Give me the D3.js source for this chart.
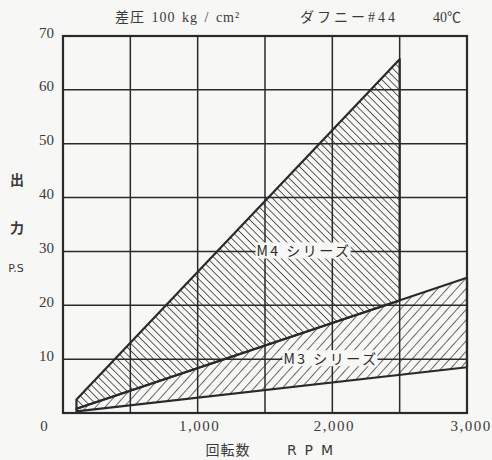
<!DOCTYPE html>
<html>
<head>
<meta charset="utf-8">
<script src="https://cdn.jsdelivr.net/npm/d3@7"></script>
<style>
  body { margin: 0; background: #f7f7f5; }
  svg { display: block; }
</style>
</head>
<body>
<div id="chart"></div>
<script>
// values
const rpmTicks = [1000, 2000, 3000];
const rpmGrid = [500, 1000, 1500, 2000, 2500];
const psTicks = [10, 20, 30, 40, 50, 60, 70];
const m4Region = [[100, 0.8], [100, 2.5], [2500, 65.7], [2500, 20.9]];
const m3Region = [[100, 0.3], [100, 0.8], [3000, 25.1], [3000, 8.5]];
const seriesLabels = [
  { name: "M4 シリーズ", rpm: 1790, ps: 30 },
  { name: "M3 シリーズ", rpm: 1990, ps: 10 }
];

function drawChart() {
  const width = 492, height = 460;
  const margin = { top: 36, right: 25, bottom: 47, left: 63 };
  const ink = "#2a2a2a";

  const svg = d3.select("#chart").append("svg")
    .attr("width", width)
    .attr("height", height);

  const x = d3.scaleLinear()
    .domain([0, 3000])
    .range([margin.left, width - margin.right]);

  const y = d3.scaleLinear()
    .domain([0, 70])
    .range([height - margin.bottom, margin.top]);

  // hatch patterns
  const defs = svg.append("defs");
  defs.append("pattern")
    .attr("id", "hatch-m4")
    .attr("patternUnits", "userSpaceOnUse")
    .attr("width", 5.2).attr("height", 10)
    .attr("patternTransform", "rotate(-45)")
    .append("line")
    .attr("x1", 0).attr("y1", 0).attr("x2", 0).attr("y2", 10)
    .attr("stroke", ink).attr("stroke-width", 1.5);

  defs.append("pattern")
    .attr("id", "hatch-m3")
    .attr("patternUnits", "userSpaceOnUse")
    .attr("width", 7).attr("height", 10)
    .attr("patternTransform", "rotate(42)")
    .append("line")
    .attr("x1", 0).attr("y1", 0).attr("x2", 0).attr("y2", 10)
    .attr("stroke", ink).attr("stroke-width", 1.4);

  // grid
  svg.append("g")
    .selectAll("line")
    .data(rpmGrid)
    .join("line")
    .attr("x1", d => x(d)).attr("x2", d => x(d))
    .attr("y1", y(0)).attr("y2", y(70))
    .attr("stroke", ink).attr("stroke-width", 1.5);

  svg.append("g")
    .selectAll("line")
    .data(psTicks.slice(0, -1))
    .join("line")
    .attr("x1", x(0)).attr("x2", x(3000))
    .attr("y1", d => y(d)).attr("y2", d => y(d))
    .attr("stroke", ink).attr("stroke-width", 1.5);

  // regions
  const line = d3.line()
    .x(d => x(d[0]))
    .y(d => y(d[1]))
    .curve(d3.curveLinearClosed);

  svg.append("path")
    .datum(m4Region)
    .attr("d", line)
    .attr("fill", "url(#hatch-m4)")
    .attr("stroke", ink)
    .attr("stroke-width", 2.2)
    .attr("stroke-linejoin", "round");

  svg.append("path")
    .datum(m3Region)
    .attr("d", line)
    .attr("fill", "url(#hatch-m3)")
    .attr("stroke", ink)
    .attr("stroke-width", 2.2)
    .attr("stroke-linejoin", "round");

  // frame
  svg.append("rect")
    .attr("x", x(0)).attr("y", y(70))
    .attr("width", x(3000) - x(0))
    .attr("height", y(0) - y(70))
    .attr("fill", "none")
    .attr("stroke", ink)
    .attr("stroke-width", 2.2);

  // series labels with a paper-coloured box
  seriesLabels.forEach(s => {
    const g = svg.append("g");
    const t = g.append("text")
      .attr("x", x(s.rpm))
      .attr("y", y(s.ps))
      .attr("dy", "0.36em")
      .attr("text-anchor", "middle")
      .style("font-family", "'Noto Sans CJK JP', sans-serif")
      .style("font-size", "14px")
      .style("letter-spacing", "2.5px")
      .attr("fill", ink)
      .text(s.name);
    const b = t.node().getBBox();
    g.insert("rect", "text")
      .attr("x", b.x - 1).attr("y", b.y + 2)
      .attr("width", b.width).attr("height", b.height - 4)
      .attr("fill", "#f7f7f5");
  });

  // y tick labels
  svg.append("g")
    .selectAll("text")
    .data(psTicks)
    .join("text")
    .attr("x", x(0) - 9)
    .attr("y", d => y(d))
    .attr("dy", "0.1em")
    .attr("text-anchor", "end")
    .style("font-family", "'Liberation Serif', serif")
    .style("font-size", "15px")
    .attr("fill", "#3a3a3a")
    .text(d => d);

  // x tick labels
  svg.append("g")
    .selectAll("text")
    .data(rpmTicks)
    .join("text")
    .attr("x", d => x(d) + (d === 3000 ? 4 : 2))
    .attr("y", y(0) + 18)
    .attr("text-anchor", "middle")
    .style("font-family", "'Liberation Serif', serif")
    .style("font-size", "15px")
    .style("letter-spacing", "1.5px")
    .attr("fill", "#3a3a3a")
    .text(d => d3.format(",")(d));

  // shared origin label
  svg.append("text")
    .attr("x", x(0) - 19)
    .attr("y", y(0) + 18)
    .attr("text-anchor", "middle")
    .style("font-family", "'Liberation Serif', serif")
    .style("font-size", "15px")
    .attr("fill", "#3a3a3a")
    .text("0");

  // Y label
  const yLab = [["出", 185], ["力", 233]];
  yLab.forEach(([t, yy]) => {
    svg.append("text")
      .attr("x", 17).attr("y", yy)
      .attr("text-anchor", "middle")
      .style("font-family", "'Noto Sans CJK JP', sans-serif")
      .style("font-size", "14px")
      .style("font-weight", "bold")
      .attr("fill", "#3a3a3a")
      .text(t);
  });
  svg.append("text")
    .attr("x", 16).attr("y", 272)
    .attr("text-anchor", "middle")
    .style("font-family", "'DejaVu Sans', sans-serif")
    .style("font-size", "11px")
    .attr("fill", "#3a3a3a")
    .text("P.S");

  // X label
  svg.append("text")
    .attr("x", 228).attr("y", 455)
    .attr("text-anchor", "middle")
    .style("font-family", "'Noto Sans CJK JP', sans-serif")
    .style("font-size", "14px")
    .style("letter-spacing", "1px")
    .attr("fill", "#3a3a3a")
    .text("回転数");
  svg.append("text")
    .attr("x", 314).attr("y", 455)
    .attr("text-anchor", "middle")
    .style("font-family", "'DejaVu Sans', sans-serif")
    .style("font-size", "14px")
    .style("letter-spacing", "8px")
    .attr("fill", "#3a3a3a")
    .text("RPM");

  // conditions above the plot
  const headStyle = t => t
    .style("font-family", "'Liberation Serif', 'Noto Sans CJK JP', serif")
    .style("font-size", "14px")
    .attr("fill", "#3a3a3a");
  svg.append("text")
    .attr("x", 115).attr("y", 22)
    .call(headStyle)
    .style("letter-spacing", "1px")
    .style("word-spacing", "2px")
    .text("差圧 100 kg / cm²");
  svg.append("text")
    .attr("x", 300).attr("y", 22)
    .call(headStyle)
    .style("letter-spacing", "3px")
    .text("ダフニー#44");
  svg.append("text")
    .attr("x", 433).attr("y", 22)
    .call(headStyle)
    .text("40℃");
}

drawChart();
</script>
</body>
</html>
